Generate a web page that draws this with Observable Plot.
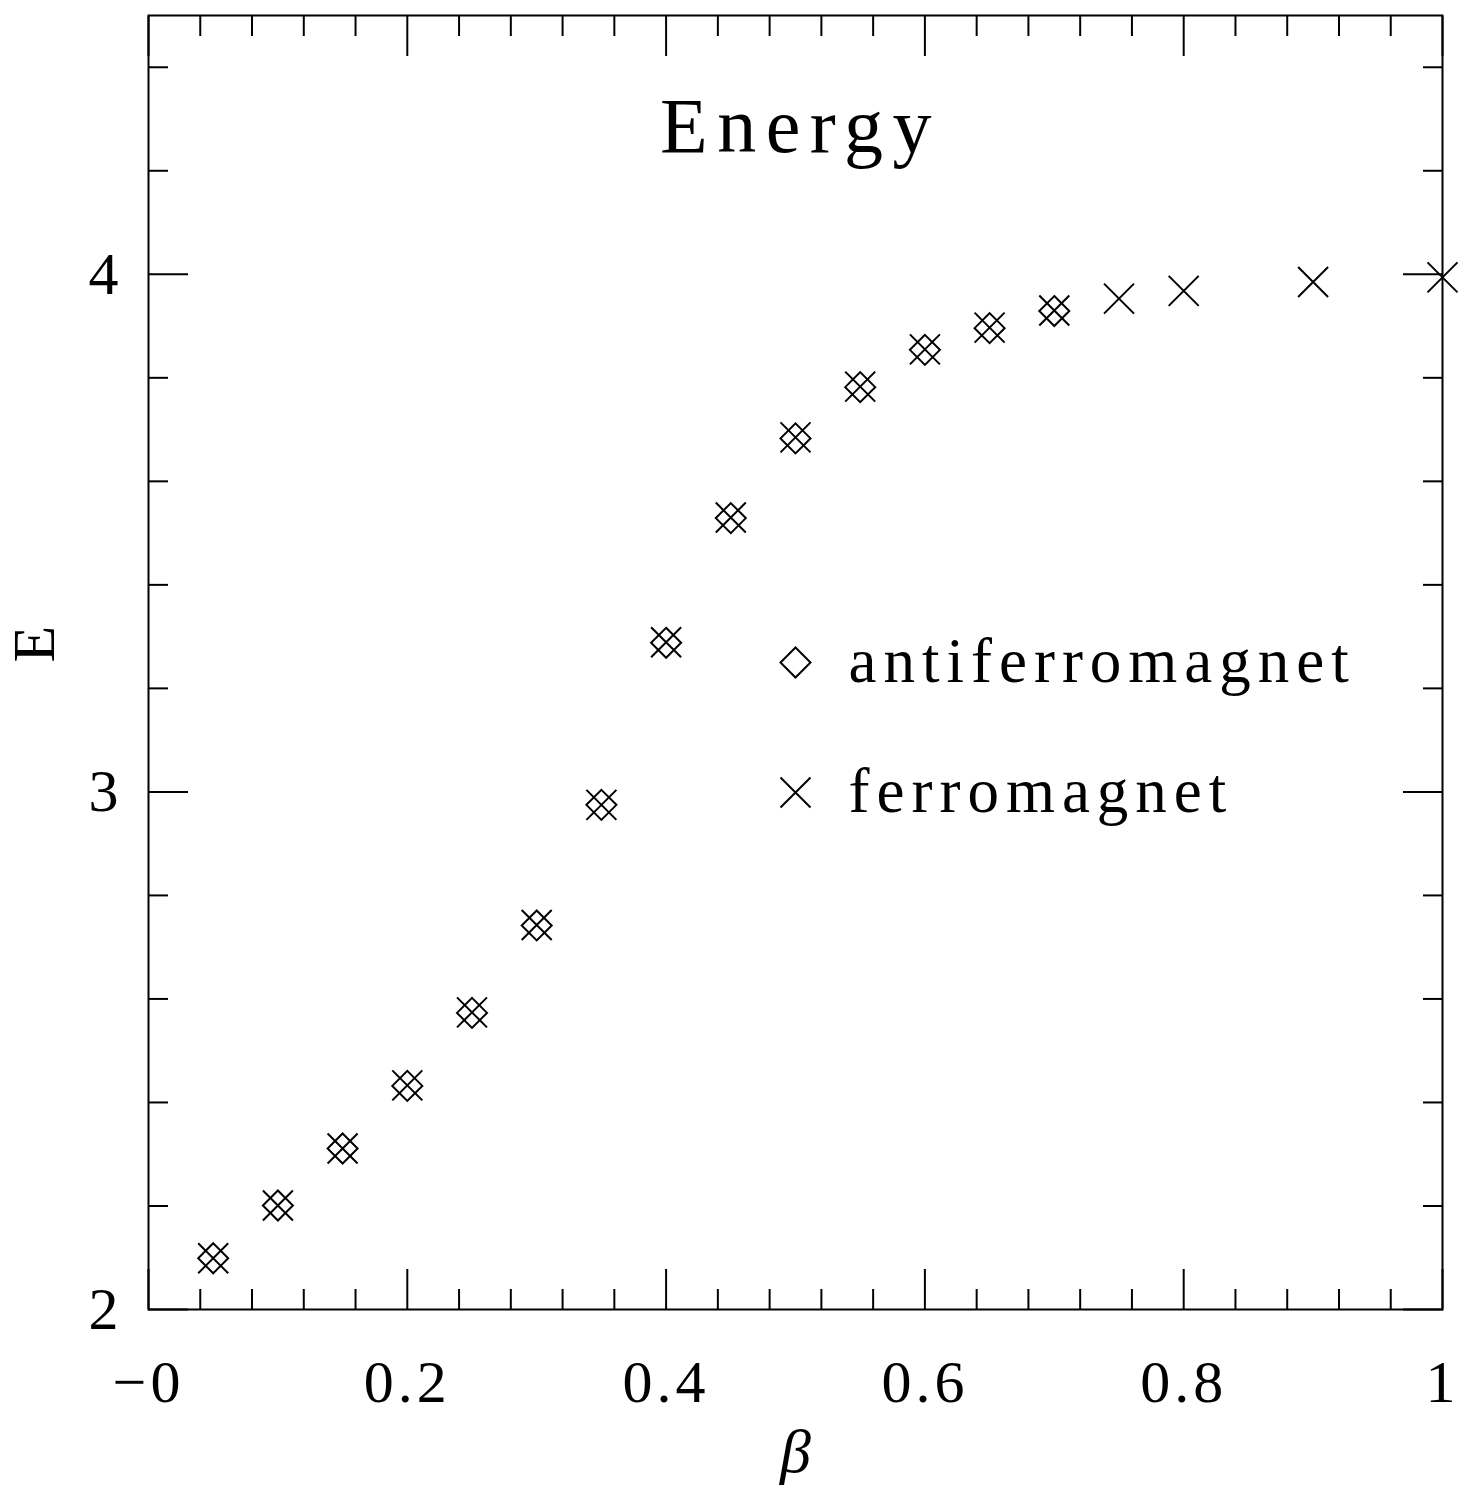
<!DOCTYPE html>
<html>
<head>
<meta charset="utf-8">
<script src="https://cdn.jsdelivr.net/npm/d3@7"></script>
<script src="https://cdn.jsdelivr.net/npm/@observablehq/plot@0.6"></script>
<style>
  html, body { margin: 0; padding: 0; background: #fff; }
  #chart svg { display: block; }
</style>
</head>
<body>
<div id="chart"></div>
<script>
// ---- data ----
const betaAFM   = [0.05, 0.10, 0.15, 0.20, 0.25, 0.30, 0.35, 0.40, 0.45, 0.50, 0.55, 0.60, 0.65, 0.70];
const energyAFM = [2.099, 2.201, 2.311, 2.432, 2.573, 2.742, 2.975, 3.288, 3.529, 3.683, 3.782, 3.854, 3.896, 3.929];
const betaFM    = [0.05, 0.10, 0.15, 0.20, 0.25, 0.30, 0.35, 0.40, 0.45, 0.50, 0.55, 0.60, 0.65, 0.70, 0.75, 0.80, 0.90, 1.00];
const energyFM  = [2.099, 2.201, 2.311, 2.433, 2.574, 2.743, 2.975, 3.289, 3.530, 3.685, 3.783, 3.855, 3.897, 3.930, 3.953, 3.968, 3.985, 3.994];

const seriesNames = ["antiferromagnet", "ferromagnet"];
const chartTitle = "Energy";
const xLabel = "β";
const yLabel = "E";

const xMajorTicks = [0, 0.2, 0.4, 0.6, 0.8, 1];
const xTickLabels = ["−0", "0.2", "0.4", "0.6", "0.8", "1"];
const xMinorTicks = [0.04, 0.08, 0.12, 0.16, 0.24, 0.28, 0.32, 0.36, 0.44, 0.48, 0.52, 0.56,
                     0.64, 0.68, 0.72, 0.76, 0.84, 0.88, 0.92, 0.96];
const yMajorTicks = [2, 3, 4];
const yTickLabels = ["2", "3", "4"];
const yMinorTicks = [2.2, 2.4, 2.6, 2.8, 3.2, 3.4, 3.6, 3.8, 4.2, 4.4];

// ---- tables ----
const afm = betaAFM.map((b, i) => ({beta: b, E: energyAFM[i]}));
const fm = betaFM.map((b, i) => ({beta: b, E: energyFM[i]}));

// ---- symbols (outline diamond and times cross, half-size 15px) ----
const H = 15;
const diamondSymbol = {draw(ctx) { ctx.moveTo(0, -H); ctx.lineTo(H, 0); ctx.lineTo(0, H); ctx.lineTo(-H, 0); ctx.closePath(); }};
const timesSymbol = {draw(ctx) { ctx.moveTo(-H, -H); ctx.lineTo(H, H); ctx.moveTo(-H, H); ctx.lineTo(H, -H); }};

const FONT = "'Liberation Serif', 'Times New Roman', serif";
const tickOnly = {stroke: "black", strokeWidth: 2, fill: "none", label: null};
const labelOnly = {tickSize: 0, label: null, fontSize: 60, fill: "black"};

const chart = Plot.plot({
  width: 1459,
  height: 1488,
  marginLeft: 148,
  marginRight: 17,
  marginTop: 15,
  marginBottom: 179,
  x: {domain: [0, 1]},
  y: {domain: [2, 4.5]},
  style: {fontFamily: FONT, background: "white", color: "black", overflow: "visible"},
  marks: [
    // inward ticks on all four sides
    Plot.axisX(xMajorTicks, {anchor: "bottom", tickSize: -40, ...tickOnly}),
    Plot.axisX(xMinorTicks, {anchor: "bottom", tickSize: -20, ...tickOnly}),
    Plot.axisX(xMajorTicks, {anchor: "top", tickSize: -40, ...tickOnly}),
    Plot.axisX(xMinorTicks, {anchor: "top", tickSize: -20, ...tickOnly}),
    Plot.axisY(yMajorTicks, {anchor: "left", tickSize: -40, ...tickOnly}),
    Plot.axisY(yMinorTicks, {anchor: "left", tickSize: -20, ...tickOnly}),
    Plot.axisY(yMajorTicks, {anchor: "right", tickSize: -40, ...tickOnly}),
    Plot.axisY(yMinorTicks, {anchor: "right", tickSize: -20, ...tickOnly}),
    // tick labels
    Plot.axisX(xMajorTicks, {anchor: "bottom", tickPadding: 50, ...labelOnly,
      tickFormat: d => xTickLabels[xMajorTicks.indexOf(d)]}),
    Plot.axisY(yMajorTicks, {anchor: "left", tickPadding: 30, ...labelOnly,
      tickFormat: d => yTickLabels[yMajorTicks.indexOf(d)]}),
    Plot.frame({stroke: "black", strokeWidth: 2}),
    // data
    Plot.dot(afm, {x: "beta", y: "E", symbol: diamondSymbol, r: 10, stroke: "black", fill: "none", strokeWidth: 2}),
    Plot.dot(fm, {x: "beta", y: "E", symbol: timesSymbol, r: 10, stroke: "black", fill: "none", strokeWidth: 2}),
    // title inside the frame
    Plot.text([chartTitle], {text: d => d, frameAnchor: "top", dy: 136, dx: 5, lineAnchor: "bottom",
      fontSize: 78, fill: "black"}),
    // legend
    Plot.dot([seriesNames[0]], {frameAnchor: "top-left", dx: 647, dy: 647, symbol: diamondSymbol, r: 10,
      stroke: "black", fill: "none", strokeWidth: 2}),
    Plot.dot([seriesNames[1]], {frameAnchor: "top-left", dx: 647, dy: 777, symbol: timesSymbol, r: 10,
      stroke: "black", fill: "none", strokeWidth: 2}),
    Plot.text([seriesNames[0]], {text: d => d, frameAnchor: "top-left", dx: 700, dy: 666, textAnchor: "start",
      lineAnchor: "bottom", fontSize: 63, fill: "black"}),
    Plot.text([seriesNames[1]], {text: d => d, frameAnchor: "top-left", dx: 700, dy: 796, textAnchor: "start",
      lineAnchor: "bottom", fontSize: 63, fill: "black"}),
    // axis titles
    Plot.text([xLabel], {text: d => d, frameAnchor: "bottom", dy: 162, lineAnchor: "bottom",
      fontSize: 62, fontStyle: "italic", fill: "black"}),
    Plot.text([yLabel], {text: d => d, frameAnchor: "left", dx: -95, rotate: -90, lineAnchor: "bottom",
      fontSize: 60, fill: "black"})
  ]
});

// Computer-Modern-like wide tracking
chart.querySelectorAll("text").forEach(t => {
  const s = t.textContent;
  if (s === chartTitle) t.setAttribute("letter-spacing", "9.5");
  else if (seriesNames.includes(s)) t.setAttribute("letter-spacing", "7");
  else if (xTickLabels.includes(s) && !yTickLabels.includes(s)) t.setAttribute("letter-spacing", "4");
});

document.getElementById("chart").appendChild(chart);
</script>
</body>
</html>
